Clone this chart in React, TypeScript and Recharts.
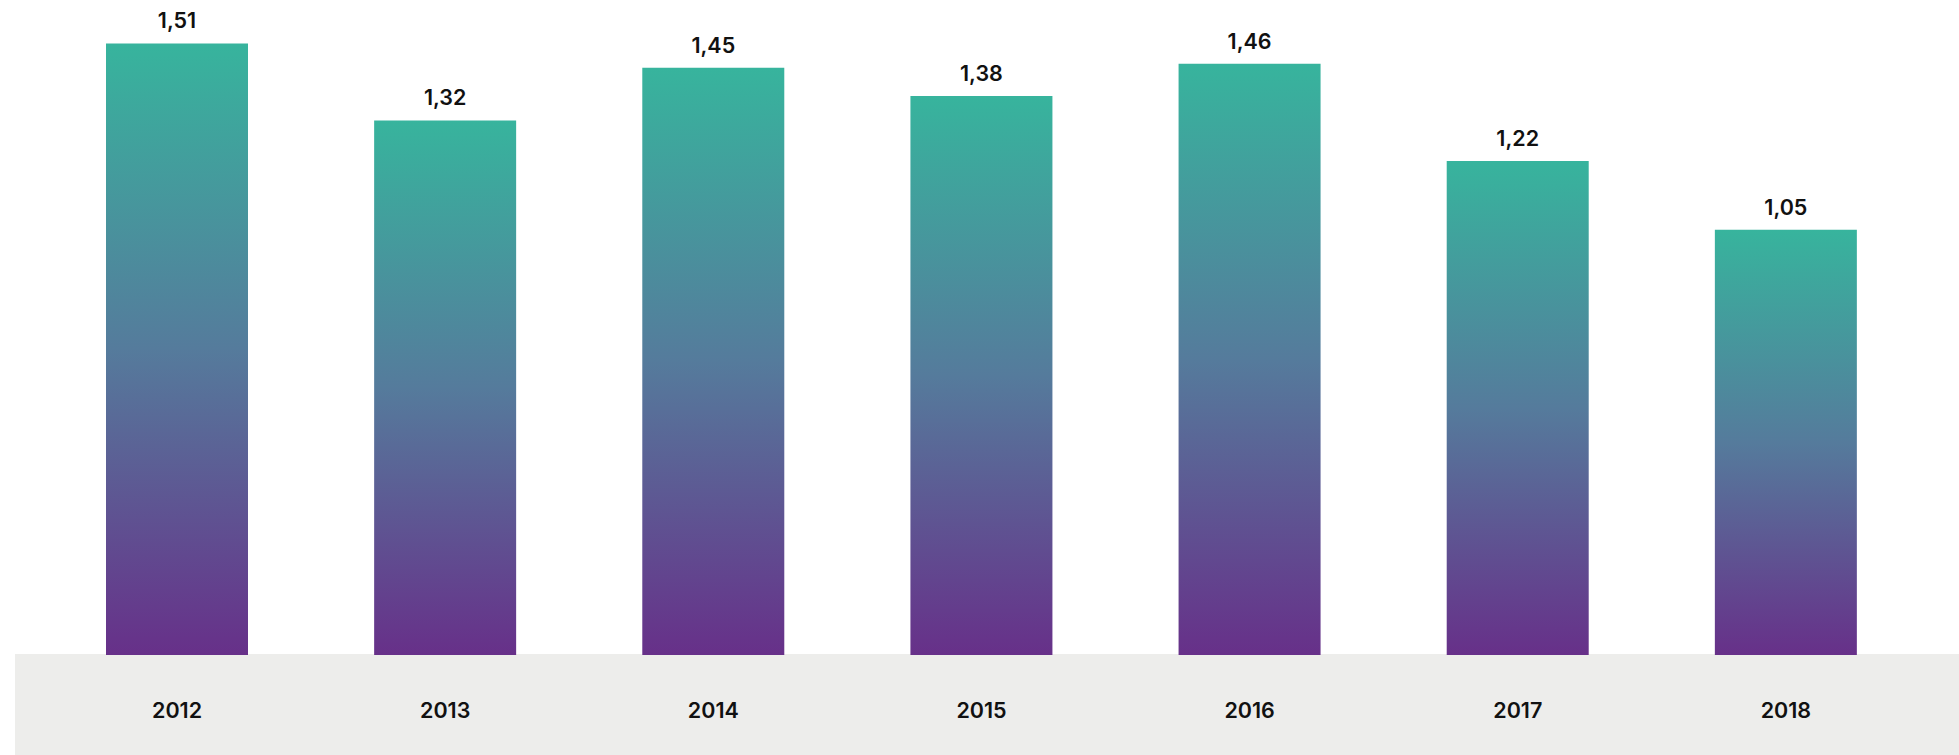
import { BarChart, Bar, XAxis, YAxis, LabelList } from 'recharts';

const years = ['2012', '2013', '2014', '2015', '2016', '2017', '2018'];
const values = [1.51, 1.32, 1.45, 1.38, 1.46, 1.22, 1.05];

const data = years.map((year, i) => ({ year, value: values[i] }));

const FONT = 'Inter, "Noto Sans", sans-serif';

const fmt = (v: number) => v.toFixed(2).replace('.', ',');

function App() {
	return (
		<div style={{ position: 'fixed', left: 0, top: 0, width: 1959, height: 755, background: '#fff', overflow: 'hidden' }}>
			{/* grey strip behind the year labels */}
			<div style={{ position: 'absolute', left: 15, top: 654, width: 1944, height: 101, background: '#ededeb' }} />
			<div style={{ position: 'absolute', left: 0, top: 0 }}>
				<BarChart width={1959} height={755} data={data} margin={{ top: 7, right: 39, bottom: 0, left: 43 }}>
					<defs>
						<linearGradient id="barGrad" x1="0" y1="0" x2="0" y2="1">
							<stop offset="0%" stopColor="#37b49d" />
							<stop offset="50%" stopColor="#557b9c" />
							<stop offset="100%" stopColor="#673089" />
						</linearGradient>
					</defs>
					<XAxis
						dataKey="year"
						axisLine={false}
						tickLine={false}
						tickSize={0}
						tickMargin={48}
						height={100}
						tick={{ fill: '#111', fontSize: 21.5, fontFamily: FONT, fontWeight: 600 }}
					/>
					<YAxis hide domain={[0, 1.6]} />
					<Bar dataKey="value" fill="url(#barGrad)" barSize={142} isAnimationActive={false}>
						<LabelList
							dataKey="value"
							position="top"
							offset={15}
							formatter={(v: number) => fmt(v)}
							style={{ fill: '#111', fontSize: 21.5, fontFamily: FONT, fontWeight: 600 }}
						/>
					</Bar>
				</BarChart>
			</div>
		</div>
	);
}

export default App;
